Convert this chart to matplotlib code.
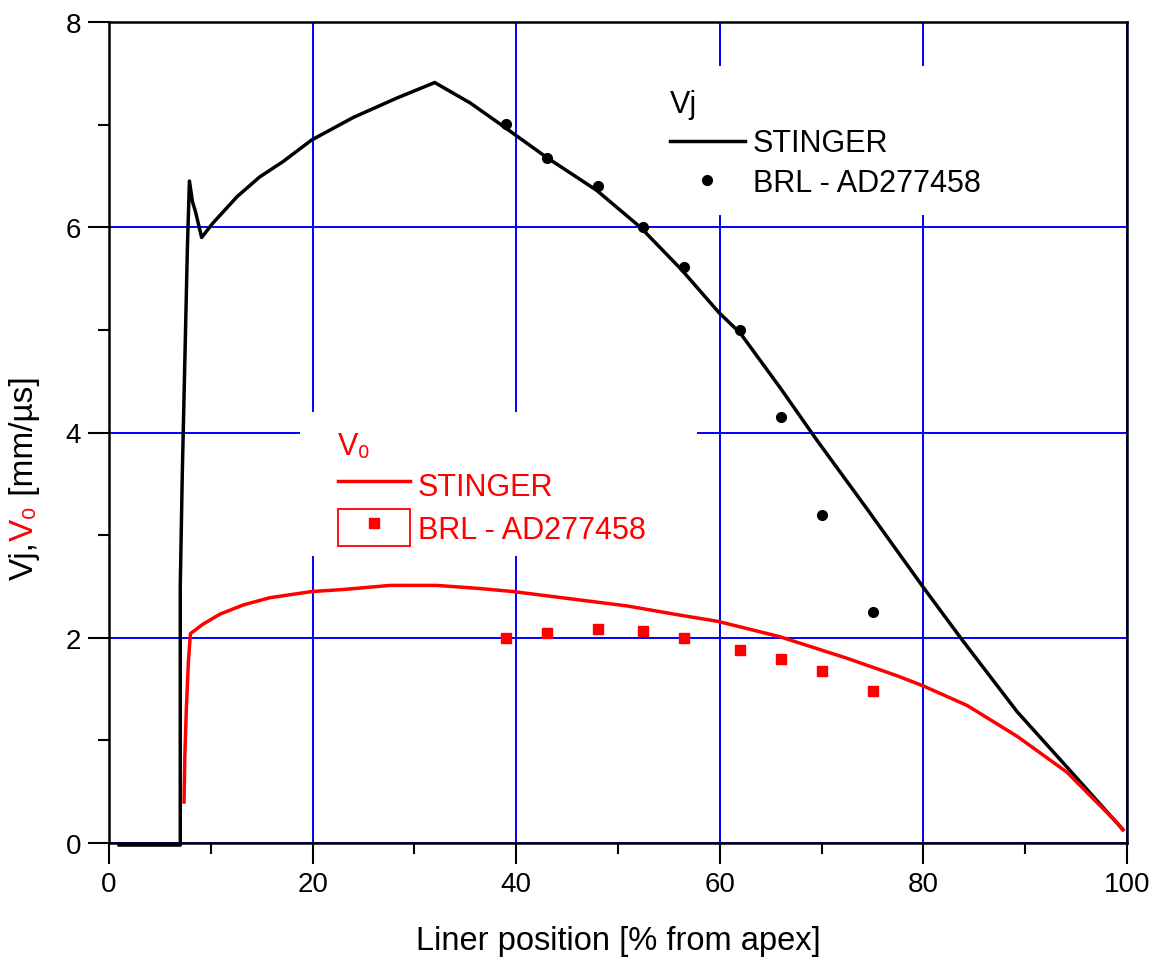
import matplotlib
matplotlib.use('Agg')
import matplotlib.pyplot as plt
from matplotlib.lines import Line2D
from matplotlib.patches import Rectangle
from matplotlib.legend_handler import HandlerTuple
from matplotlib.ticker import MultipleLocator

plt.rcParams['font.family'] = ['Liberation Sans', 'DejaVu Sans']

# Vj - STINGER
vj_x = [1.0, 7.0, 7.0, 7.2, 7.45, 7.7, 7.9, 8.2, 8.5, 9.1, 10.2, 12.6, 14.8, 17.1, 19.9,
        24.0, 28.3, 32.0, 35.5, 38.5, 43.0, 47.9, 52.2, 56.3, 59.9, 62.0, 65.9, 69.5,
        74.5, 80.0, 83.8, 89.2, 94.1, 99.6]
vj_y = [-0.02, -0.02, 2.5, 3.6, 4.7, 5.8, 6.45, 6.25, 6.15, 5.9, 6.04, 6.30, 6.49, 6.64, 6.85,
        7.07, 7.26, 7.41, 7.21, 7.0, 6.68, 6.36, 6.0, 5.58, 5.17, 4.97, 4.44, 3.93,
        3.25, 2.49, 1.98, 1.28, 0.74, 0.13]

# V0 - STINGER
v0_x = [7.37, 7.45, 7.6, 7.8, 8.0, 9.2, 10.9, 13.2, 15.8, 19.9, 23.0, 27.6, 32.2, 36.4,
        39.7, 45.3, 50.9, 56.1, 59.8, 65.9, 72.5, 77.4, 80.0, 84.3, 89.2, 94.1, 99.0, 99.6]
v0_y = [0.4, 0.85, 1.31, 1.77, 2.04, 2.13, 2.23, 2.32, 2.39, 2.45, 2.47, 2.51, 2.51, 2.48,
        2.45, 2.38, 2.31, 2.22, 2.16, 2.01, 1.80, 1.63, 1.53, 1.34, 1.04, 0.69, 0.20, 0.13]

# BRL - AD277458
brl_x = [39, 43, 48, 52.5, 56.5, 62, 66, 70, 75]
brl_vj = [7.01, 6.67, 6.40, 6.0, 5.61, 5.0, 4.15, 3.2, 2.25]
brl_v0 = [2.0, 2.05, 2.09, 2.07, 2.0, 1.88, 1.79, 1.68, 1.48]

fig = plt.figure(figsize=(11.53, 9.62), dpi=100)
ax = fig.add_axes([109 / 1153, 1 - 844 / 962, 1018 / 1153, 821 / 962])

ax.plot(vj_x, vj_y, color='black', lw=2.5, clip_on=False, zorder=3)
ax.plot(v0_x, v0_y, color='red', lw=2.5, zorder=3)
ax.plot(brl_x, brl_vj, 'o', color='black', ms=7, zorder=4)
ax.plot(brl_x, brl_v0, 's', color='red', ms=7, zorder=4)

ax.set_xlim(0, 100)
ax.set_ylim(0, 8)
ax.set_xticks(range(0, 101, 20))
ax.set_yticks(range(0, 9, 2))
ax.xaxis.set_minor_locator(MultipleLocator(10))
ax.yaxis.set_minor_locator(MultipleLocator(1))
ax.tick_params(which='major', direction='out', length=15, width=1.5, labelsize=20, pad=5)
ax.tick_params(which='minor', direction='out', length=8, width=1.5)
ax.grid(True, which='major', color='blue', lw=1.4)
ax.set_axisbelow(True)
for s in ax.spines.values():
    s.set_linewidth(1.8)

ax.set_xlabel('Liner position [% from apex]', fontsize=23.5, labelpad=20)

# white boxes behind legends (hide grid)
ax.add_patch(Rectangle((0.188, 0.350), 0.390, 0.175, transform=ax.transAxes,
                       facecolor='white', edgecolor='none', zorder=1))
ax.add_patch(Rectangle((0.514, 0.765), 0.397, 0.181, transform=ax.transAxes,
                       facecolor='white', edgecolor='none', zorder=1))

h1 = [Line2D([], [], color='black', lw=2.5),
      Line2D([], [], ls='none', marker='o', color='black', ms=7)]
leg1 = ax.legend(h1, ['STINGER', 'BRL - AD277458'], title='Vj', loc='upper left',
                 bbox_to_anchor=(0.551, 0.918), frameon=False, fontsize=22,
                 title_fontsize=22, alignment='left', borderpad=0, borderaxespad=0,
                 handlelength=2.45, handletextpad=0.26, labelspacing=0.3)
ax.add_artist(leg1)

box = Rectangle((0, 0), 1, 1, facecolor='none', edgecolor='red', lw=1.3)
sq = Line2D([], [], ls='none', marker='s', color='red', ms=7)
h2 = [Line2D([], [], color='red', lw=2.5), (box, sq)]
leg2 = ax.legend(h2, ['STINGER', 'BRL - AD277458'], title='V\u2080', loc='upper left',
                 bbox_to_anchor=(0.225, 0.502), frameon=False, fontsize=22,
                 title_fontsize=22, alignment='left', borderpad=0, borderaxespad=0,
                 handlelength=2.35, handleheight=1.45, handletextpad=0.26, labelspacing=0.2,
                 handler_map={tuple: HandlerTuple(ndivide=1)})
leg2.get_title().set_color('red')
for t in leg2.get_texts():
    t.set_color('red')

# multi-coloured y label
t1 = fig.text(0.035, 0.397, 'Vj,', rotation=90, rotation_mode='anchor',
              ha='left', va='bottom', fontsize=24)
t2 = ax.annotate('V\u2080', xy=(1, 1), xycoords=t1, rotation=90, rotation_mode='anchor',
                 ha='left', va='bottom', fontsize=24, color='red')
ax.annotate(' [mm/\u00b5s]', xy=(1, 1), xycoords=t2, rotation=90, rotation_mode='anchor',
            ha='left', va='bottom', fontsize=24)

fig.savefig('out.png', dpi=100)
